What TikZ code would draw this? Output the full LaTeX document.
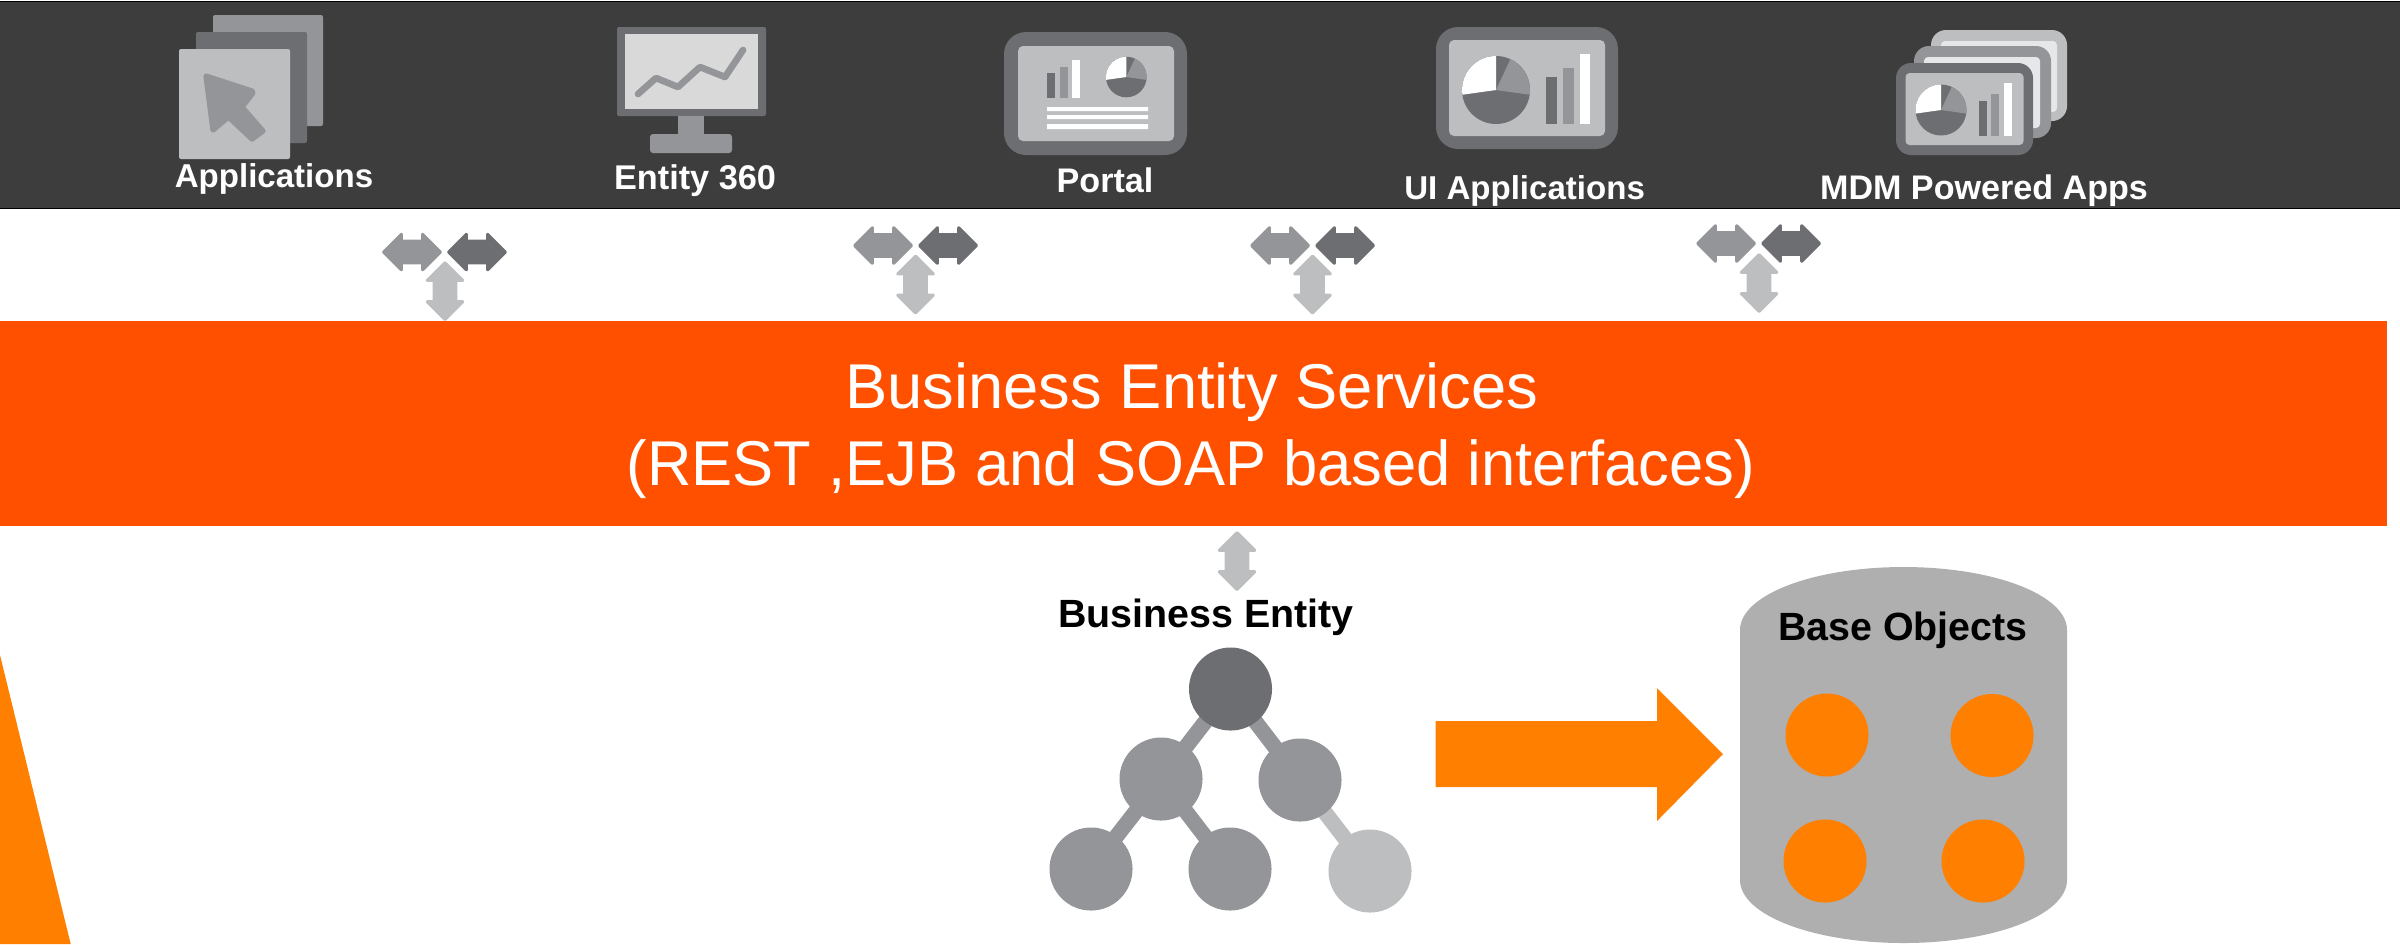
\documentclass[tikz,border=0pt]{standalone}
\usepackage{fontspec}
\setmainfont{Liberation Sans}
\usetikzlibrary{shapes.arrows,backgrounds}
\definecolor{barc}{HTML}{3D3D3D}
\definecolor{bandc}{HTML}{FF5000}
\definecolor{orangec}{HTML}{FF7F00}
\definecolor{dk}{HTML}{6D6E71}
\definecolor{md}{HTML}{939598}
\definecolor{lt}{HTML}{BCBEC0}
\definecolor{vl}{HTML}{E6E7E8}
\definecolor{scr}{HTML}{D9D9DA}
\definecolor{cyl}{HTML}{AFAFAF}
\newcommand{\rbox}[6]{\fill[#5,rounded corners=#6*0.01cm] (#1,#2) rectangle (#3,#4);}
\newcommand{\mypie}[3]{\begin{scope}[shift={(#1,#2)},y=0.01cm]
\fill[dk] (0,0) circle (#3);
\fill[white] (0,0) -- (90:#3) arc (90:188:#3) -- cycle;
\fill[md] (0,0) -- (65:#3) arc (65:-8:#3) -- cycle;
\end{scope}}
\tikzset{
 lab/.style={anchor=base,inner sep=0pt,font=\fontsize{9.4}{11}\selectfont\bfseries,text=white},
 blab/.style={anchor=base,inner sep=0pt,font=\fontsize{11.2}{13}\selectfont\bfseries,text=black},
 bandlab/.style={anchor=base,inner sep=0pt,font=\fontsize{18}{22}\selectfont,text=white},
 darr/.style={shape=double arrow,fill=#1,draw=#1,line width=0.8pt,line join=round,inner sep=0.095cm,
   minimum height=0.57cm,minimum width=0.35cm,double arrow head extend=0.07cm,double arrow tip angle=90},
 treenode/.style={circle,fill=#1,minimum size=0.83cm,inner sep=0pt},
 objnode/.style={circle,fill=orangec,minimum size=0.83cm,inner sep=0pt},
 treeedge/.style={draw=#1,line width=4.4pt},
}
\begin{document}
\begin{tikzpicture}[x=0.01cm,y=-0.01cm]
\useasboundingbox (0,0) rectangle (2400,944);
% top bar
\fill[barc,draw=black,line width=0.5pt] (-2,1.5) rectangle (2402,208.5);
% band
\node[fill=bandc,anchor=north west,inner sep=0pt,outer sep=0pt,minimum width=23.86cm,minimum height=2.05cm] (band) at (0,321) {};
\node[bandlab] (t1) at (1192,408) {Business Entity Services};
\node[bandlab] (t2) at (1191,485) {\scalebox{0.972}[1]{(REST ,EJB and SOAP based interfaces)}};
% left triangle
\fill[orangec] (0,655) -- (70.7,944) -- (0,944) -- cycle;
% Applications icon
\rbox{213}{15}{323}{126}{md}{2}
\rbox{196}{32}{307}{143}{dk}{2}
\rbox{179}{49}{290}{159}{lt}{2}
\fill[md,draw=md,line width=1.5pt,line join=round] (206,76) -- (252,91) -- (253,93) -- (242,107) -- (263,131) -- (252,139) -- (228.5,117) -- (213,130) -- cycle;
\node[lab] (l1) at (274,187) {Applications};
% Entity 360 icon
\rbox{617}{27}{766}{116}{dk}{2}
\fill[scr] (624.5,34) rectangle (758,109);
\draw[md,line width=1.9pt,line cap=round,line join=round] (638,94) -- (656,78) -- (678,87) -- (700,67) -- (725,77) -- (743,50);
\fill[md] (678,116) rectangle (704,135);
\rbox{650}{134}{732}{153}{md}{3}
\node[lab,font=\fontsize{9.75}{12}\selectfont\bfseries] (l2) at (695,189) {Entity 360};
% Portal icon
\rbox{1004}{32}{1187}{155}{dk}{22}
\rbox{1018}{46}{1174}{141}{lt}{5}
\fill[dk] (1047,73) rectangle (1055,98);
\fill[md] (1060,67) rectangle (1068,98);
\fill[white] (1072,60) rectangle (1080,98);
\mypie{1126.3}{77}{20.3}
\fill[white] (1047,107) rectangle (1148,111) (1047,115) rectangle (1148,119) (1047,124) rectangle (1148,129);
\node[lab,font=\fontsize{9.7}{12}\selectfont\bfseries] (l3) at (1105,192) {Portal};
% UI Applications icon
\rbox{1436}{27}{1618}{149}{dk}{22}
\rbox{1449}{40}{1605}{136}{lt}{5}
\mypie{1496}{90}{34}
\fill[dk] (1546,77) rectangle (1557,124);
\fill[md] (1563,68) rectangle (1574,124);
\fill[white] (1580,54) rectangle (1590,124);
\node[lab] (l4) at (1524.6,199) {UI Applications};
% MDM icon
\rbox{1931}{30}{2067}{121}{lt}{15}
\rbox{1941}{41}{2057}{112}{vl}{4}
\rbox{1914}{46}{2051}{138}{md}{15}
\rbox{1924}{57}{2040}{128}{vl}{4}
\rbox{1896}{63}{2033}{155}{dk}{15}
\rbox{1905.5}{73}{2023.5}{145}{lt}{4}
\mypie{1941}{110}{25.5}
\fill[dk] (1979,101) rectangle (1987,136);
\fill[md] (1991,94) rectangle (1999,136);
\fill[white] (2004,83) rectangle (2012,136);
\node[lab,font=\fontsize{9.7}{12}\selectfont\bfseries] (l5) at (1984,199) {MDM Powered Apps};
% double arrows
\node[darr=md] (a1l) at (412,252) {};
\node[darr=dk] (a1r) at (477,252) {};
\node[darr=lt,rotate=90] (a1v) at (445,291) {};
\node[darr=md] (a2l) at (883,245.5) {};
\node[darr=dk] (a2r) at (948,245.5) {};
\node[darr=lt,rotate=90] (a2v) at (915.5,284.5) {};
\node[darr=md] (a3l) at (1280,245.5) {};
\node[darr=dk] (a3r) at (1345,245.5) {};
\node[darr=lt,rotate=90] (a3v) at (1312.5,284.5) {};
\node[darr=md] (a4l) at (1726,243.5) {};
\node[darr=dk] (a4r) at (1791,243.5) {};
\node[darr=lt,rotate=90] (a4v) at (1759,283) {};
\node[darr=lt,rotate=90] (a5v) at (1237,561) {};
% business entity
\node[blab] (be) at (1206,627) {Business Entity};
\node[treenode=dk] (n0) at (1230.5,689) {};
\node[treenode=md] (n1) at (1161,779) {};
\node[treenode=md] (n2) at (1300,780) {};
\node[treenode=md] (n3) at (1091,869) {};
\node[treenode=md] (n4) at (1230,869) {};
\node[treenode=lt] (n5) at (1370,871) {};
\begin{scope}[on background layer]
\draw[treeedge=md] (n0.center) -- (n1.center);
\draw[treeedge=md] (n0.center) -- (n2.center);
\draw[treeedge=md] (n1.center) -- (n3.center);
\draw[treeedge=md] (n1.center) -- (n4.center);
\draw[treeedge=lt] (n2.center) -- (n5.center);
\end{scope}
% block arrow
\fill[orangec] (1435.5,721) -- (1657,721) -- (1657,688) -- (1723,754) -- (1657,821) -- (1657,787) -- (1435.5,787) -- cycle;
% cylinder
\fill[cyl] (1740,630) .. controls (1740,595) and (1813,567) .. (1903.5,567) .. controls (1994,567) and (2067,595) .. (2067,630) -- (2067,880) .. controls (2067,915) and (1994,943) .. (1903.5,943) .. controls (1813,943) and (1740,915) .. (1740,880) -- cycle;
\node[blab] (bo) at (1903,640) {Base Objects};
\node[objnode] (o1) at (1827,735) {};
\node[objnode] (o2) at (1992,735.5) {};
\node[objnode] (o3) at (1825,861) {};
\node[objnode] (o4) at (1983,861) {};
\end{tikzpicture}
\end{document}
